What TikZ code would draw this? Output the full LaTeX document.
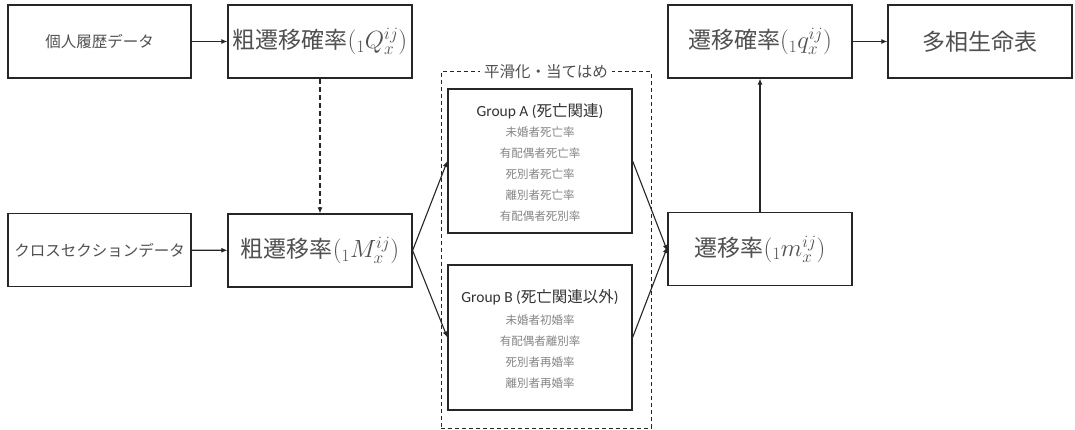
\documentclass[tikz,border=0pt]{standalone}
\usepackage{fontspec}
\setmainfont{Carlito}
\newfontfamily\jp{Noto Sans CJK JP}
\usetikzlibrary{arrows.meta}
\definecolor{txt}{HTML}{505050}
\definecolor{ttlc}{HTML}{333333}
\definecolor{txtlight}{HTML}{858585}
\definecolor{edge}{HTML}{262626}
\tikzset{
  box/.style={draw=edge, line width=1.2pt, minimum width=184pt, minimum height=73pt, inner sep=0pt, text=txt},
  grp/.style={draw=edge, line width=1.2pt, minimum width=184pt, inner sep=0pt},
  bigtxt/.style={font=\jp\fontsize{23}{26}\selectfont},
  midtxt/.style={font=\jp\fontsize{15.5}{18}\selectfont},
  ttl/.style={font=\fontsize{15.5}{18}\selectfont, text=ttlc, inner sep=0pt},
  item/.style={font=\jp\fontsize{11.5}{14}\selectfont, text=txtlight, inner sep=0pt},
  conn/.style={draw=edge, line width=1.1pt, -{Latex[length=6pt,width=5pt]}},
}
\begin{document}
\begin{tikzpicture}[x=1pt,y=-1pt]
\useasboundingbox (0,0) rectangle (1075,430);
\fill[white] (0,0) rectangle (1075,430);
% top row
\node[box, midtxt, minimum width=183pt] (ind) at (99.5,41.5) {個人履歴データ};
\node[box, bigtxt] (rawQ) at (320,41.5) {粗遷移確率$({}_{1}Q_{x}^{ij})$};
\node[box, bigtxt] (q) at (760,41.5) {遷移確率$({}_{1}q_{x}^{ij})$};
\node[box, bigtxt] (life) at (980,41.5) {多相生命表};
% bottom row
\node[box, midtxt, minimum width=183pt] (cross) at (99.5,250) {クロスセクションデータ};
\node[box, bigtxt] (rawM) at (320,250.5) {粗遷移率$({}_{1}M_{x}^{ij})$};
\node[box, bigtxt] (m) at (760,249) {遷移率$({}_{1}m_{x}^{ij})$};
% smoothing group
\node[draw=edge, line width=1pt, dashed, dash pattern=on 4pt off 3pt, minimum width=210pt, minimum height=356pt, inner sep=0pt] (smooth) at (546,250) {};
\node[fill=white, midtxt, text=txt, inner xsep=4pt, inner ysep=1pt] (smlabel) at (546,72) {平滑化・当てはめ};
\node[grp, minimum height=144pt] (gA) at (540,161) {};
\node[grp, minimum height=145pt] (gB) at (540,337.5) {};
\node[ttl] (tA) at (540,111) {Group A ({\jp 死亡関連})};
\node[item] (a1) at (540,132) {未婚者死亡率};
\node[item] (a2) at (540,153) {有配偶者死亡率};
\node[item] (a3) at (540,174) {死別者死亡率};
\node[item] (a4) at (540,195) {離別者死亡率};
\node[item] (a5) at (540,216) {有配偶者死別率};
\node[ttl] (tB) at (540,297) {Group B ({\jp 死亡関連以外})};
\node[item] (b1) at (540,320) {未婚者初婚率};
\node[item] (b2) at (540,341) {有配偶者離別率};
\node[item] (b3) at (540,362) {死別者再婚率};
\node[item] (b4) at (540,383) {離別者再婚率};
% connectors
\draw[conn] (ind) -- (rawQ);
\draw[conn] (cross) -- (rawM);
\draw[conn, dashed, dash pattern=on 5pt off 3pt] (rawQ) -- (rawM);
\draw[conn] (rawM.east) -- (gA.west);
\draw[conn] (rawM.east) -- (gB.west);
\draw[conn] (gA.east) -- ([yshift=-2pt]m.west);
\draw[conn] (gB.east) -- ([yshift=2pt]m.west);
\draw[conn] (m) -- (q);
\draw[conn] (q) -- (life);
\end{tikzpicture}
\end{document}
